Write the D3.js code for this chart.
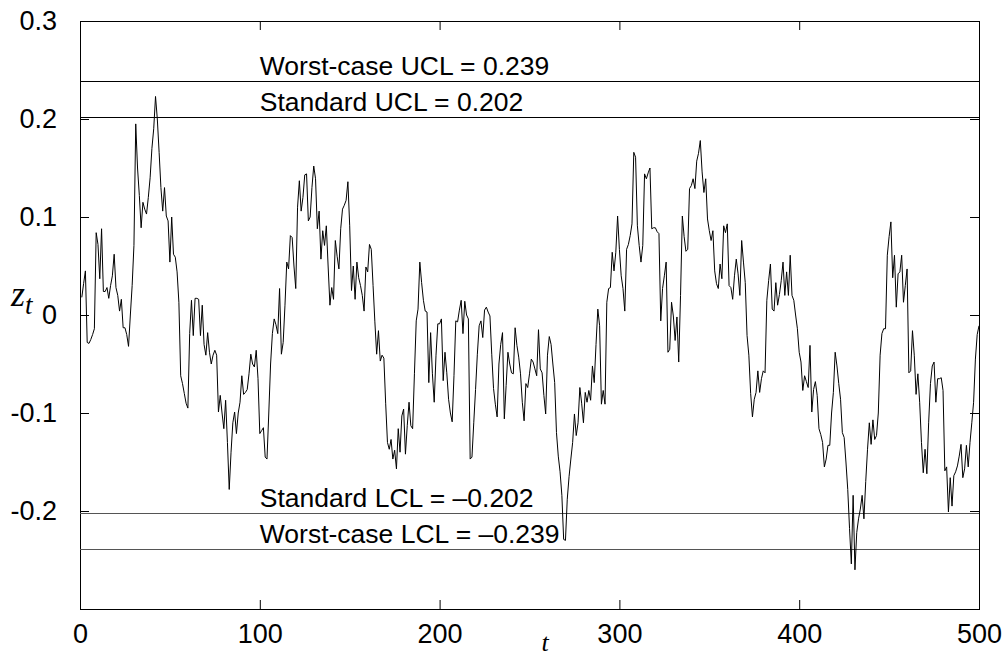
<!DOCTYPE html>
<html>
<head>
<meta charset="utf-8">
<script src="https://cdn.jsdelivr.net/npm/d3@7"></script>
<style>
  body { margin: 0; background: #fff; }
  svg { display: block; }
  .tick text { font-family: Arial, "Liberation Sans", sans-serif; font-size: 27px; fill: #000; }
</style>
</head>
<body>
<svg id="chart" width="1008" height="657"></svg>
<script>
// EWMA statistic z_t for t = 1..500
const zt = [
  0.018, 0.032, 0.045, -0.028, -0.029, -0.025, -0.020, -0.014, 0.084, 0.072,
  0.037, 0.088, 0.024, 0.024, 0.028, 0.017, 0.030, 0.040, 0.062, 0.028,
  0.020, 0.004, 0.016, -0.013, -0.013, -0.020, -0.032, 0.000, 0.030, 0.071,
  0.195, 0.150, 0.122, 0.089, 0.115, 0.108, 0.103, 0.120, 0.140, 0.170,
  0.190, 0.223, 0.200, 0.166, 0.130, 0.106, 0.130, 0.101, 0.096, 0.054,
  0.100, 0.062, 0.059, 0.044, 0.013, -0.062, -0.070, -0.080, -0.090, -0.095,
  -0.019, 0.015, -0.021, 0.017, 0.017, 0.016, -0.021, 0.010, -0.030, -0.041,
  -0.018, -0.038, -0.050, -0.041, -0.036, -0.041, -0.099, -0.082, -0.100, -0.116,
  -0.087, -0.130, -0.178, -0.140, -0.110, -0.099, -0.121, -0.100, -0.089, -0.062,
  -0.081, -0.079, -0.076, -0.060, -0.040, -0.050, -0.053, -0.036, -0.065, -0.121,
  -0.118, -0.115, -0.145, -0.147, -0.100, -0.050, -0.019, -0.004, -0.010, -0.019,
  0.027, -0.040, -0.028, 0.010, 0.054, 0.047, 0.081, 0.079, 0.050, 0.027,
  0.110, 0.137, 0.106, 0.120, 0.143, 0.144, 0.096, 0.100, 0.130, 0.152,
  0.139, 0.088, 0.106, 0.057, 0.086, 0.071, 0.091, 0.050, 0.010, 0.028,
  0.016, 0.076, 0.060, 0.047, 0.088, 0.108, 0.112, 0.117, 0.136, 0.091,
  0.025, 0.050, 0.016, 0.054, 0.038, 0.030, 0.020, 0.004, 0.049, 0.044,
  0.072, 0.067, 0.030, -0.007, -0.040, -0.016, -0.047, -0.041, -0.044, -0.090,
  -0.130, -0.137, -0.127, -0.147, -0.138, -0.157, -0.116, -0.140, -0.103, -0.096,
  -0.142, -0.113, -0.089, -0.113, -0.116, -0.060, -0.006, 0.006, 0.054, 0.033,
  0.015, 0.004, 0.003, -0.069, -0.018, -0.060, -0.089, -0.041, -0.009, -0.009,
  -0.004, -0.067, -0.038, -0.059, -0.086, -0.100, -0.109, -0.062, -0.006, -0.007,
  0.005, 0.015, -0.019, 0.014, 0.000, -0.004, -0.147, -0.145, -0.110, -0.076,
  -0.040, -0.011, -0.006, -0.023, 0.005, 0.008, 0.003, -0.001, -0.040, -0.075,
  -0.091, -0.104, -0.050, -0.030, -0.018, -0.106, -0.072, -0.038, -0.050, -0.059,
  -0.060, -0.013, -0.031, -0.043, -0.060, -0.089, -0.108, -0.070, -0.074, -0.060,
  -0.045, -0.048, -0.055, -0.062, -0.015, -0.055, -0.059, -0.082, -0.101, -0.041,
  -0.022, -0.030, -0.050, -0.069, -0.120, -0.144, -0.160, -0.184, -0.229, -0.230,
  -0.188, -0.165, -0.147, -0.130, -0.101, -0.123, -0.110, -0.074, -0.090, -0.110,
  -0.079, -0.089, -0.077, -0.087, -0.052, -0.069, -0.030, 0.006, -0.011, -0.091,
  -0.077, -0.091, 0.013, 0.027, 0.028, 0.064, 0.045, 0.064, 0.101, 0.067,
  0.040, 0.027, 0.004, 0.067, 0.072, 0.081, 0.093, 0.166, 0.161, 0.091,
  0.071, 0.054, 0.071, 0.144, 0.139, 0.145, 0.150, 0.088, 0.089, 0.089,
  0.085, 0.083, -0.006, 0.027, 0.040, 0.054, -0.038, -0.035, 0.013, -0.001,
  -0.026, -0.002, -0.048, 0.020, 0.101, 0.080, 0.065, 0.067, 0.129, 0.132,
  0.139, 0.129, 0.157, 0.165, 0.178, 0.146, 0.125, 0.139, 0.098, 0.086,
  0.076, 0.086, 0.045, 0.032, 0.027, 0.052, 0.037, 0.091, 0.084, 0.093,
  0.030, 0.028, 0.016, 0.040, 0.057, 0.042, 0.020, 0.076, 0.054, 0.033,
  -0.021, -0.041, -0.080, -0.104, -0.086, -0.079, -0.057, -0.079, -0.065, -0.057,
  -0.059, 0.015, 0.035, 0.052, 0.006, 0.004, 0.033, 0.010, 0.021, 0.035,
  0.054, 0.020, 0.044, 0.020, 0.061, 0.020, 0.015, 0.000, -0.014, -0.038,
  -0.048, -0.077, -0.062, -0.068, -0.074, -0.031, -0.099, -0.076, -0.068, -0.082,
  -0.116, -0.122, -0.130, -0.155, -0.147, -0.133, -0.133, -0.100, -0.079, -0.038,
  -0.052, -0.070, -0.086, -0.120, -0.125, -0.150, -0.178, -0.218, -0.254, -0.184,
  -0.260, -0.222, -0.208, -0.198, -0.184, -0.208, -0.170, -0.137, -0.110, -0.132,
  -0.107, -0.127, -0.123, -0.100, -0.041, -0.019, -0.014, -0.014, 0.061, 0.080,
  0.095, 0.038, 0.061, 0.008, 0.042, 0.044, 0.061, 0.013, 0.030, 0.047,
  -0.059, -0.057, -0.016, -0.041, -0.081, -0.060, -0.089, -0.130, -0.161, -0.137,
  -0.162, -0.110, -0.070, -0.052, -0.048, -0.089, -0.065, -0.065, -0.064, -0.077,
  -0.159, -0.155, -0.201, -0.166, -0.195, -0.164, -0.160, -0.154, -0.144, -0.132,
  -0.166, -0.157, -0.133, -0.155, -0.130, -0.110, -0.089, -0.045, -0.020, -0.011
];

const xTicks = [0, 100, 200, 300, 400, 500];
const yTicks = [-0.2, -0.1, 0, 0.1, 0.2, 0.3];
const yTickLabels = ["-0.2", "-0.1", "0", "0.1", "0.2", "0.3"];

// control limits and their captions
const limitValues = [0.239, 0.202, -0.202, -0.239];
const limitLabels = [
  "Worst-case UCL = 0.239",
  "Standard UCL = 0.202",
  "Standard LCL = \u20130.202",
  "Worst-case LCL = \u20130.239"
];
const limitLabelT = 100;

const svg = d3.select("#chart");
const L = 80, R = 979, T = 21, B = 609;
const tickLen = 9;

const x = d3.scaleLinear().domain([0, 500]).range([L, R]);
const y = d3.scaleLinear().domain([-0.3, 0.3]).range([B, T]);

// axes with inward ticks on all four sides
const gBottom = svg.append("g").attr("transform", `translate(0,${B})`)
  .call(d3.axisBottom(x).tickValues(xTicks).tickSize(-tickLen).tickSizeOuter(0).tickPadding(15)
    .tickFormat(d3.format("d")));
const gTop = svg.append("g").attr("transform", `translate(0,${T})`)
  .call(d3.axisTop(x).tickValues(xTicks).tickSize(-tickLen).tickSizeOuter(0).tickFormat(""));
const gLeft = svg.append("g").attr("transform", `translate(${L},0)`)
  .call(d3.axisLeft(y).tickValues(yTicks).tickSize(-tickLen).tickSizeOuter(0).tickPadding(23)
    .tickFormat((d, i) => yTickLabels[i]));
const gRight = svg.append("g").attr("transform", `translate(${R},0)`)
  .call(d3.axisRight(y).tickValues(yTicks).tickSize(-tickLen).tickSizeOuter(0).tickFormat(""));

[gBottom, gTop, gLeft, gRight].forEach(g => {
  g.select(".domain").remove();
  g.selectAll(".tick line").attr("stroke", "#000").attr("stroke-width", 1);
});

// plot box
svg.append("rect")
  .attr("x", L + 0.5).attr("y", T + 0.5)
  .attr("width", R - L).attr("height", B - T)
  .attr("fill", "none").attr("stroke", "#000").attr("stroke-width", 1);

// control limit lines
svg.append("g").selectAll("line").data(limitValues).join("line")
  .attr("x1", L).attr("x2", R)
  .attr("y1", d => Math.round(y(d)) + 0.5).attr("y2", d => Math.round(y(d)) + 0.5)
  .attr("stroke", (d) => d > 0 ? "#000" : "#555")
  .attr("stroke-width", 1);

svg.append("g").selectAll("text").data(limitValues).join("text")
  .attr("x", x(limitLabelT))
  .attr("y", d => y(d) - 6)
  .attr("font-family", "Arial, 'Liberation Sans', sans-serif")
  .attr("font-size", 26.5)
  .attr("fill", "#000")
  .text((d, i) => limitLabels[i]);

// z_t series
const line = d3.line()
  .x((d, i) => x(i + 1))
  .y(d => y(d));

svg.append("path")
  .datum(zt)
  .attr("fill", "none")
  .attr("stroke", "#000")
  .attr("stroke-width", 1)
  .attr("stroke-linejoin", "miter")
  .attr("d", line);

// axis titles
const zLabel = svg.append("text")
  .attr("x", 11).attr("y", 306)
  .attr("font-family", "'Times New Roman', 'Liberation Serif', serif")
  .attr("font-style", "italic")
  .attr("font-size", 36)
  .attr("fill", "#000");
zLabel.append("tspan").text("z");
zLabel.append("tspan").attr("dy", 8).attr("font-size", 27).text("t");

svg.append("text")
  .attr("x", 545).attr("y", 651)
  .attr("text-anchor", "middle")
  .attr("font-family", "'Times New Roman', 'Liberation Serif', serif")
  .attr("font-style", "italic")
  .attr("font-size", 26)
  .attr("fill", "#000")
  .text("t");
</script>
</body>
</html>
